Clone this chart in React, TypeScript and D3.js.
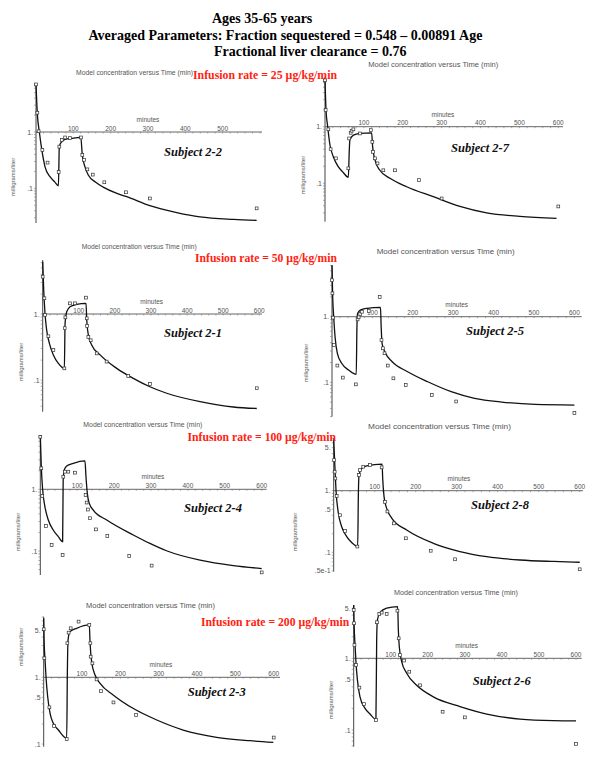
import React from "react";
import * as d3 from "d3";

// model curve (fit) and measured values, minutes vs mg/L
const s22FitT = [0, 3.6, 9, 15, 24, 37.5, 50, 60, 62.5, 69, 78, 95.5, 120, 124, 131, 140, 160, 180, 215, 243, 305, 377, 439, 529, 591];
const s22FitC = [7.3, 2.1, 1.0, 0.51, 0.243, 0.161, 0.13, 0.111, 0.56, 0.67, 0.74, 0.77, 0.8, 0.39, 0.243, 0.172, 0.128, 0.105, 0.082, 0.071, 0.049, 0.037, 0.031, 0.028, 0.027];
const s22ObsT = [0, 3.6, 7, 17, 31, 60.7, 62.5, 69, 78, 91, 120.5, 124, 128.6, 137.5, 152, 183, 241, 305, 591];
const s22ObsC = [7.0, 2.2, 1.03, 0.48, 0.286, 0.195, 0.55, 0.72, 0.8, 0.78, 0.8, 0.39, 0.32, 0.217, 0.175, 0.128, 0.085, 0.066, 0.044];

const s27FitT = [0, 2.6, 6.9, 12.9, 21.4, 34, 47, 60, 62.5, 64, 73, 90, 120, 122.5, 128.5, 141, 167, 210, 278.5, 347, 415.6, 501, 595.5];
const s27FitC = [7.1, 1.97, 1.0, 0.47, 0.295, 0.197, 0.155, 0.128, 0.39, 0.58, 0.71, 0.76, 0.78, 0.44, 0.26, 0.17, 0.123, 0.087, 0.058, 0.039, 0.03, 0.026, 0.024];
const s27ObsT = [0, 1.7, 8.6, 14.6, 28, 60, 62, 66, 68.5, 73, 90, 118, 121.7, 123.4, 128.5, 135, 150, 180, 241.6, 300, 600];
const s27ObsC = [6.6, 1.97, 0.9, 0.4, 0.276, 0.184, 0.62, 0.78, 0.85, 0.9, 0.76, 0.87, 0.54, 0.36, 0.276, 0.225, 0.17, 0.17, 0.114, 0.054, 0.039];

const s21FitT = [0, 2.8, 6.5, 11, 18.5, 29.5, 43.4, 60, 62, 66.5, 75.7, 94, 120, 122, 126.5, 135.7, 159, 205, 251, 297, 343.5, 436, 528, 593];
const s21FitC = [6.2, 2.3, 1.0, 0.57, 0.36, 0.24, 0.179, 0.15, 0.72, 1.08, 1.29, 1.4, 1.45, 0.81, 0.48, 0.34, 0.24, 0.15, 0.106, 0.079, 0.063, 0.047, 0.039, 0.037];
const s21ObsT = [0, 4.6, 6.5, 15.7, 29.5, 60, 61, 62.8, 75.7, 89.6, 120, 122, 123, 126.5, 133, 149.6, 177, 237, 297, 593];
const s21ObsC = [3.68, 1.73, 0.97, 0.46, 0.285, 0.15, 0.61, 0.89, 1.45, 1.45, 1.77, 0.86, 0.66, 0.45, 0.4, 0.253, 0.19, 0.115, 0.087, 0.075];

const s25FitT = [0, 1.7, 4.2, 7.5, 13.3, 24, 41, 60, 61.7, 63.3, 70, 86.7, 120, 121.7, 124, 132.5, 149, 187, 237, 295, 353, 420, 503, 600];
const s25FitC = [6.1, 2.0, 1.0, 0.5, 0.277, 0.195, 0.154, 0.132, 0.7, 1.12, 1.26, 1.34, 1.39, 0.7, 0.39, 0.277, 0.206, 0.145, 0.102, 0.072, 0.057, 0.05, 0.046, 0.045];
const s25ObsT = [0, 1, 2.5, 5, 13.3, 26.7, 59, 63.3, 66, 70, 74, 91, 118, 122.5, 126, 130, 138, 152, 182.5, 247, 307.5, 600];
const s25ObsC = [3.6, 2.27, 0.97, 0.37, 0.18, 0.118, 0.093, 0.91, 0.98, 1.1, 1.19, 1.22, 2.0, 0.44, 0.33, 0.277, 0.18, 0.115, 0.091, 0.064, 0.051, 0.034];

const s24FitT = [0, 2.7, 6.3, 12.6, 21.7, 35, 48.8, 60.5, 62, 65, 71.4, 89.4, 121, 123.8, 127.4, 132.8, 143.6, 180, 252, 297, 342, 433, 523, 600];
const s24FitC = [7.6, 2.33, 1.0, 0.52, 0.318, 0.219, 0.171, 0.142, 1.42, 2.06, 2.39, 2.64, 2.88, 1.6, 0.86, 0.59, 0.46, 0.318, 0.182, 0.133, 0.101, 0.071, 0.058, 0.052];
const s24ObsT = [0, 2.7, 5.4, 15.4, 30.7, 60.5, 62.3, 66.8, 75.9, 94, 122.8, 125.6, 129, 134.6, 150.9, 181.6, 241, 301.7, 600];
const s24ObsC = [7.1, 2.19, 0.78, 0.254, 0.125, 0.086, 1.6, 1.93, 1.93, 1.86, 0.81, 0.61, 0.47, 0.34, 0.224, 0.175, 0.083, 0.058, 0.045];

const s28FitT = [0, 3.3, 5.7, 11.4, 19.5, 31.7, 43.9, 58.5, 60.2, 61.8, 68.3, 80.5, 118, 119.5, 122.8, 129, 141.5, 178, 243, 308, 373, 454.5, 536, 600];
const s28FitC = [6.6, 2.16, 1.0, 0.43, 0.26, 0.18, 0.144, 0.124, 0.91, 1.8, 2.3, 2.54, 2.71, 1.58, 0.8, 0.52, 0.36, 0.23, 0.14, 0.103, 0.085, 0.075, 0.071, 0.069];
const s28ObsT = [1, 2.4, 4, 7.3, 15.4, 27.6, 57.7, 61.8, 64, 72, 88.6, 117, 125, 131, 147, 176, 236.6, 296, 600];
const s28ObsC = [3.14, 2.03, 1.58, 0.82, 0.4, 0.222, 0.124, 1.8, 2.16, 2.45, 2.61, 2.39, 0.66, 0.46, 0.295, 0.169, 0.106, 0.077, 0.053];

const s23FitT = [0, 1, 3.5, 6.1, 10.4, 16.5, 25.2, 38.3, 60, 61.7, 63.5, 68.7, 86, 119, 121, 125, 134, 147, 182, 234, 295, 364, 451, 538, 599];
const s23FitC = [7.7, 3.63, 1.82, 1.0, 0.51, 0.29, 0.204, 0.162, 0.122, 1.15, 3.63, 4.84, 5.43, 6.1, 3.24, 1.72, 1.08, 0.81, 0.54, 0.34, 0.229, 0.162, 0.126, 0.112, 0.106];
const s23ObsT = [0, 1.7, 14.8, 27, 60, 61.7, 65, 70.4, 91, 119, 121.7, 122.6, 127, 138, 149.6, 182, 241, 600];
const s23ObsC = [5.25, 1.93, 0.355, 0.186, 0.119, 3.24, 4.68, 5.43, 6.84, 6.1, 3.24, 2.04, 1.62, 0.93, 0.62, 0.42, 0.272, 0.125];

const s26FitT = [0, 1, 3.6, 6.3, 10, 17, 30.6, 44, 60, 62, 64, 71, 89, 118.7, 120.5, 123, 129.5, 143, 170, 215, 287, 359, 449, 539, 600];
const s26FitC = [5.55, 3.08, 1.53, 0.85, 0.5, 0.29, 0.2, 0.167, 0.141, 1.8, 3.43, 4.34, 4.99, 5.26, 2.48, 1.46, 0.9, 0.62, 0.42, 0.29, 0.212, 0.167, 0.142, 0.135, 0.134];
const s26ObsT = [0, 1, 2, 6.3, 15.3, 27.9, 60, 63, 69, 75.5, 89, 118, 121.4, 125, 135.8, 150, 179, 240, 300, 600];
const s26ObsC = [4.72, 3.08, 1.53, 0.81, 0.39, 0.23, 0.138, 3.18, 4.16, 4.34, 4.16, 4.62, 1.9, 1.11, 0.93, 0.65, 0.42, 0.18, 0.15, 0.064];

const minuteTicks = [100, 200, 300, 400, 500, 600];
const smallTicks = [1, 0.1];
const smallTickLabels = ["1.", ".1"];
const bigTicks = [5, 1, 0.5, 0.1];
const bigTickLabels = ["5.", "1.", ".5", ".1"];
const s28Ticks = [5, 1, 0.5, 0.1, 0.05];
const s28TickLabels = ["5.", "1.", ".5", ".1", ".5e-1"];

const headerLines = [
  "Ages 35-65 years",
  "Averaged Parameters:  Fraction sequestered = 0.548 \u2013 0.00891 Age",
  "Fractional liver clearance = 0.76",
];
const rates = ["25", "50", "100", "200"];

const panels = [
  { name: "Subject 2-2", fitT: s22FitT, fitC: s22FitC, obsT: s22ObsT, obsC: s22ObsC, ticks: smallTicks, tickLabels: smallTickLabels, xt: [100, 200, 300, 400, 500],
    x0: 36, x600: 260, y1: 132, y01: 188.3, top: 83, bot: 223, xEnd: 262, tx: 76, ty: 75, tl: 117, mx: 148, sx: 193, sy: 156, lx: 15, ly: 177 },
  { name: "Subject 2-7", fitT: s27FitT, fitC: s27FitC, obsT: s27ObsT, obsC: s27ObsC, ticks: smallTicks, tickLabels: smallTickLabels, xt: minuteTicks,
    x0: 325, x600: 558.3, y1: 126.7, y01: 183.3, top: 77, bot: 221.7, xEnd: 563, tx: 368.3, ty: 67.3, tl: 130, mx: 443, sx: 480, sy: 152, lx: 305, ly: 175 },
  { name: "Subject 2-1", fitT: s21FitT, fitC: s21FitC, obsT: s21ObsT, obsC: s21ObsC, ticks: smallTicks, tickLabels: smallTickLabels, xt: minuteTicks,
    x0: 42.7, x600: 259.3, y1: 314, y01: 380, top: 260, bot: 411.7, xEnd: 262, tx: 81.7, ty: 249, tl: 115, mx: 151.7, sx: 193, sy: 337, lx: 23, ly: 362 },
  { name: "Subject 2-5", fitT: s25FitT, fitC: s25FitC, obsT: s25ObsT, obsC: s25ObsC, ticks: smallTicks, tickLabels: smallTickLabels, xt: minuteTicks,
    x0: 332, x600: 574.4, y1: 316.7, y01: 382.3, top: 265, bot: 416.7, xEnd: 581.7, tx: 376.7, ty: 254, tl: 138, mx: 456.7, sx: 495, sy: 335, lx: 308, ly: 363 },
  { name: "Subject 2-4", fitT: s24FitT, fitC: s24FitC, obsT: s24ObsT, obsC: s24ObsC, ticks: smallTicks, tickLabels: smallTickLabels, xt: minuteTicks,
    x0: 40.3, x600: 261.7, y1: 489.3, y01: 551, top: 435, bot: 575, xEnd: 266.7, tx: 83.3, ty: 427.3, tl: 119, mx: 153, sx: 213, sy: 511.5, lx: 20, ly: 532 },
  { name: "Subject 2-8", fitT: s28FitT, fitC: s28FitC, obsT: s28ObsT, obsC: s28ObsC, ticks: s28Ticks, tickLabels: s28TickLabels, xt: minuteTicks,
    x0: 333.7, x600: 579.7, y1: 490.7, y01: 552.3, top: 438, bot: 571.7, xEnd: 583, tx: 368, ty: 429, tl: 143, mx: 459, sx: 500, sy: 508.5, lx: 297, ly: 532 },
  { name: "Subject 2-3", fitT: s23FitT, fitC: s23FitC, obsT: s23ObsT, obsC: s23ObsC, ticks: bigTicks, tickLabels: bigTickLabels, xt: minuteTicks,
    x0: 43.7, x600: 273.7, y1: 677.3, y01: 744, top: 616.7, bot: 746.7, xEnd: 280, tx: 86, ty: 608.3, tl: 129, mx: 161, sx: 216.7, sy: 696, lx: 23, ly: 647 },
  { name: "Subject 2-6", fitT: s26FitT, fitC: s26FitC, obsT: s26ObsT, obsC: s26ObsC, ticks: bigTicks, tickLabels: bigTickLabels, xt: minuteTicks,
    x0: 353.7, x600: 576, y1: 658.3, y01: 730, top: 605, bot: 746.7, xEnd: 581.7, tx: 394, ty: 595.3, tl: 124, mx: 466.7, sx: 501.7, sy: 685, lx: 333, ly: 700 },
];

// where the red infusion-rate labels go (start x, baseline, length)
const rateSpots = [
  [193, 79, 144],
  [195, 262, 142],
  [187.5, 441, 148.5],
  [201, 626, 148.3],
];

// header lines: start x, baseline
const headerSpots = [
  [212, 23],
  [88.5, 39.5],
  [214, 56],
];

const sans = "'Liberation Sans', Arial, sans-serif";
const serif = "'Liberation Serif', 'Times New Roman', serif";
const grey = "#555";

function Panel({ p }) {
  const x = d3.scaleLinear().domain([0, 600]).range([p.x0, p.x600]);
  const y = d3.scaleLog().domain([0.1, 1]).range([p.y01, p.y1]);

  const line = d3.line<number>()
    .x((_, i) => x(p.fitT[i]))
    .y((c) => y(c))
    .curve(d3.curveMonotoneX);

  // log minor ticks inside the visible axis
  const lo = y.invert(p.bot), hi = y.invert(p.top);
  const minor: number[] = [];
  for (let k = Math.floor(Math.log10(lo)); k <= Math.ceil(Math.log10(hi)); k++) {
    for (let m = 1; m <= 9; m++) {
      const v = m * Math.pow(10, k);
      if (v >= lo && v <= hi) minor.push(v);
    }
  }

  return (
    <g>
      <text x={p.tx} y={p.ty} fontFamily={sans} fontSize={7} fill={grey}
        textLength={p.tl} lengthAdjust="spacingAndGlyphs">Model concentration versus Time (min)</text>

      {/* y axis */}
      <line x1={p.x0} x2={p.x0} y1={p.top} y2={p.bot} stroke="#444" strokeWidth={1} />
      {minor.map((v, i) => (
        <line key={i} x1={p.x0 - 2} x2={p.x0} y1={y(v)} y2={y(v)} stroke="#777" strokeWidth={0.6} />
      ))}
      {p.ticks.map((v, i) => (
        <text key={i} x={p.x0 - 3} y={y(v) + 2.5} textAnchor="end" fontFamily={sans} fontSize={7} fill={grey}>
          {p.tickLabels[i]}
        </text>
      ))}
      <text transform={`translate(${p.lx},${p.ly}) rotate(-90)`} textAnchor="middle" fontFamily={sans}
        fontSize={6} fill="#555">milligrams/liter</text>

      {/* x axis at 1 mg/L */}
      <line x1={p.x0} x2={p.xEnd} y1={y(1)} y2={y(1)} stroke="#555" strokeWidth={0.9} />
      {d3.range(20, 620, 20).filter((t) => x(t) <= p.xEnd).map((t) => (
        <line key={t} x1={x(t)} x2={x(t)} y1={y(1)} y2={y(1) + 1.5} stroke="#777" strokeWidth={0.6} />
      ))}
      {p.xt.map((t) => (
        <text key={t} x={x(t)} y={y(1) - 1.5} textAnchor="middle" fontFamily={sans} fontSize={6.5} fill={grey}>{t}</text>
      ))}
      <text x={p.mx} y={y(1) - 10} textAnchor="middle" fontFamily={sans} fontSize={6.5} fill={grey}>minutes</text>

      <path d={line(p.fitC) || ""} fill="none" stroke="#111" strokeWidth={1.3} />

      {p.obsT.map((t, i) => (
        <rect key={i} x={x(t) - 1.4} y={y(p.obsC[i]) - 1.4} width={2.8} height={2.8}
          fill="#fff" stroke="#333" strokeWidth={0.7} />
      ))}

      <text x={p.sx} y={p.sy} textAnchor="middle" fontFamily={serif} fontStyle="italic" fontWeight="bold"
        fontSize={12.5} fill="#111">{p.name}</text>
    </g>
  );
}

export default function App() {
  return (
    <svg width={600} height={776} style={{ position: "absolute", left: 0, top: 0, background: "#fff" }}>
      <rect width={600} height={776} fill="#fff" />
      {headerLines.map((h, i) => (
        <text key={i} x={headerSpots[i][0]} y={headerSpots[i][1]} fontFamily={serif} fontWeight="bold" fontSize={14}>{h}</text>
      ))}

      {panels.map((p) => <Panel key={p.name} p={p} />)}

      {rates.map((r, i) => (
        <text key={r} x={rateSpots[i][0]} y={rateSpots[i][1]} fontFamily={serif} fontWeight="bold" fontSize={12}
          fill="#f21" textLength={rateSpots[i][2]} lengthAdjust="spacingAndGlyphs">
          {`Infusion rate = ${r} \u00b5g/kg/min`}
        </text>
      ))}
    </svg>
  );
}
